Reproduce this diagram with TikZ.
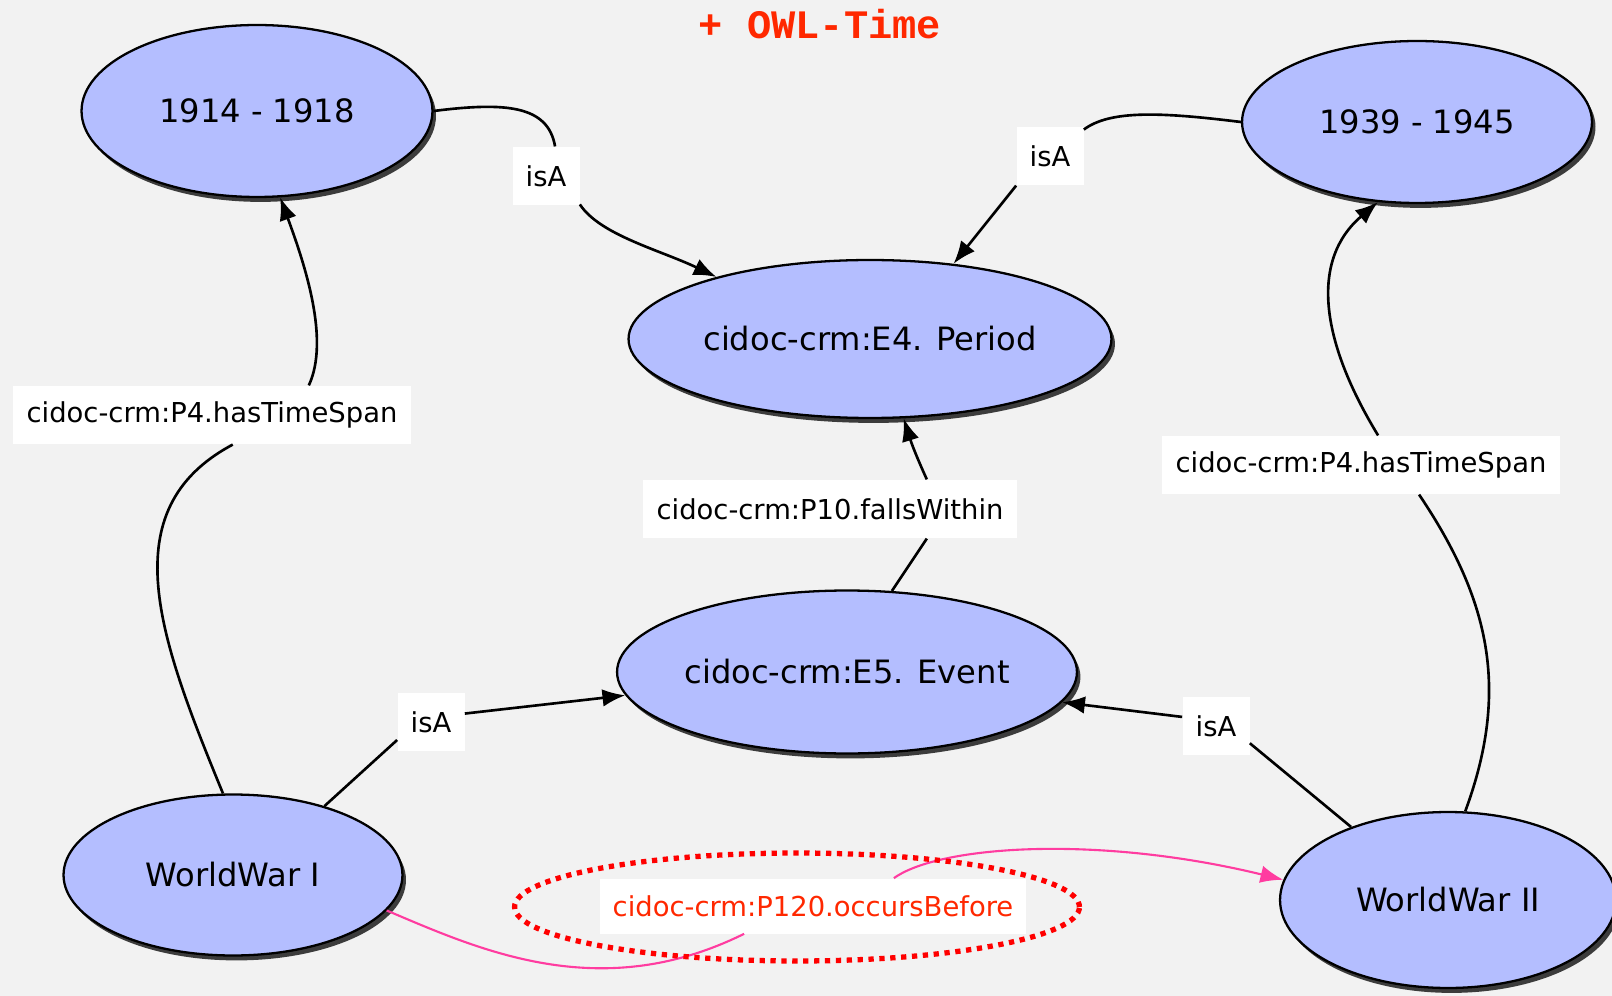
\documentclass[tikz,border=0pt]{standalone}
\usepackage{fontspec}
\setmainfont{DejaVu Sans}
\newfontfamily\titlefont{Liberation Mono}
\usetikzlibrary{shapes.geometric,arrows.meta,shadows}
\definecolor{bggray}{RGB}{242,242,242}
\definecolor{conceptblue}{RGB}{180,190,255}
\definecolor{titlered}{RGB}{255,40,0}
\definecolor{linkpink}{RGB}{255,60,160}
\definecolor{markred}{RGB}{255,0,0}
\tikzset{
	concept/.style={ellipse, draw=black, line width=1.3pt, fill=conceptblue, inner sep=0pt,
		drop shadow={shadow xshift=2pt, shadow yshift=-2.8pt, fill=black, opacity=0.75},
		font=\fontsize{18.3}{22}\selectfont},
	relation/.style={rectangle, fill=white, inner xsep=7.5pt, minimum height=1.17cm,
		font=\fontsize{15.6}{19}\selectfont},
	isa/.style={-{Latex[length=13pt,width=10pt]}, line width=1.5pt},
	before/.style={line width=1.2pt, draw=linkpink},
}
\begin{document}
\begin{tikzpicture}[x=0.02cm,y=-0.02cm]
			\fill[bggray] (0,0) rectangle (1612,996);
			\useasboundingbox (0,0) rectangle (1612,996);
			\node[font=\titlefont\bfseries\fontsize{23}{26}\selectfont, text=titlered] (title) at (820,24) {+ OWL-Time};
			% classes and instances
			\node[concept, minimum width=7.02cm, minimum height=3.44cm] (y1914) at (257,111) {1914 - 1918};
			\node[concept, minimum width=7cm, minimum height=3.24cm] (y1939) at (1417,122) {1939 - 1945};
			\node[concept, minimum width=9.66cm, minimum height=3.16cm] (period) at (870,339) {cidoc-crm:E4. Period};
			\node[concept, minimum width=9cm, minimum height=3.26cm] (event) at (847,672) {cidoc-crm:E5. Event};
			\node[concept, minimum width=6.78cm, minimum height=3.22cm] (wwI) at (233,875) {WorldWar I};
			\node[concept, minimum width=6.72cm, minimum height=3.52cm] (wwII) at (1448,900) {WorldWar II};
			% property labels
			\node[relation] (isaA) at (546,176) {isA};
			\node[relation] (isaB) at (1050,156) {isA};
			\node[relation] (spanL) at (212,415) {cidoc-crm:P4.hasTimeSpan};
			\node[relation] (spanR) at (1361,465) {cidoc-crm:P4.hasTimeSpan};
			\node[relation] (falls) at (830,509) {cidoc-crm:P10.fallsWithin};
			\node[relation] (isaC) at (431,722) {isA};
			\node[relation] (isaD) at (1216,726) {isA};
			\node[relation, minimum height=1.1cm, text=titlered] (occurs) at (813,906) {cidoc-crm:P120.occursBefore};
			% connectors
			\draw[line width=1.5pt] (wwI.97) .. controls (160,640) and (110,510) .. (spanL.-55);
			\draw[isa] (spanL.17) .. controls (330,340) and (305,265) .. (y1914.-75);
			\draw[line width=1.5pt] (y1914.0) .. controls (505,102) and (548,105) .. (isaA.73);
			\draw[isa] (isaA.-40) .. controls (600,235) and (660,250) .. (period.158);
			\draw[line width=1.5pt] (y1939.180) .. controls (1160,112) and (1110,110) .. (isaB.38);
			\draw[isa] (isaB.south west) -- (period.42);
			\draw[line width=1.5pt] (event.61) -- (falls.-17);
			\draw[isa] (falls.17) .. controls (918,460) and (912,445) .. (period.-67);
			\draw[line width=1.5pt] (wwI.37) -- (isaC.208);
			\draw[isa] (isaC.14) -- (event.186);
			\draw[line width=1.5pt] (wwII.143) -- (isaD.-27);
			\draw[isa] (isaD.165) -- (event.-8);
			\draw[line width=1.5pt] (wwII.79) .. controls (1510,690) and (1490,600) .. (spanR.-27);
			\draw[isa] (spanR.60) .. controls (1320,340) and (1310,260) .. (y1939.244);
			\draw[before] (wwI.-13) .. controls (480,950) and (600,1005) .. (occurs.202);
			\draw[before, -{Latex[length=13pt,width=10pt]}] (occurs.19) .. controls (940,845) and (1100,835) .. (wwII.173);
			\node[ellipse, draw=markred, line width=3pt, dash pattern=on 3pt off 3.2pt,
				minimum width=11.3cm, minimum height=2.16cm] (occursmark) at (797,907) {};
		\end{tikzpicture}
\end{document}
